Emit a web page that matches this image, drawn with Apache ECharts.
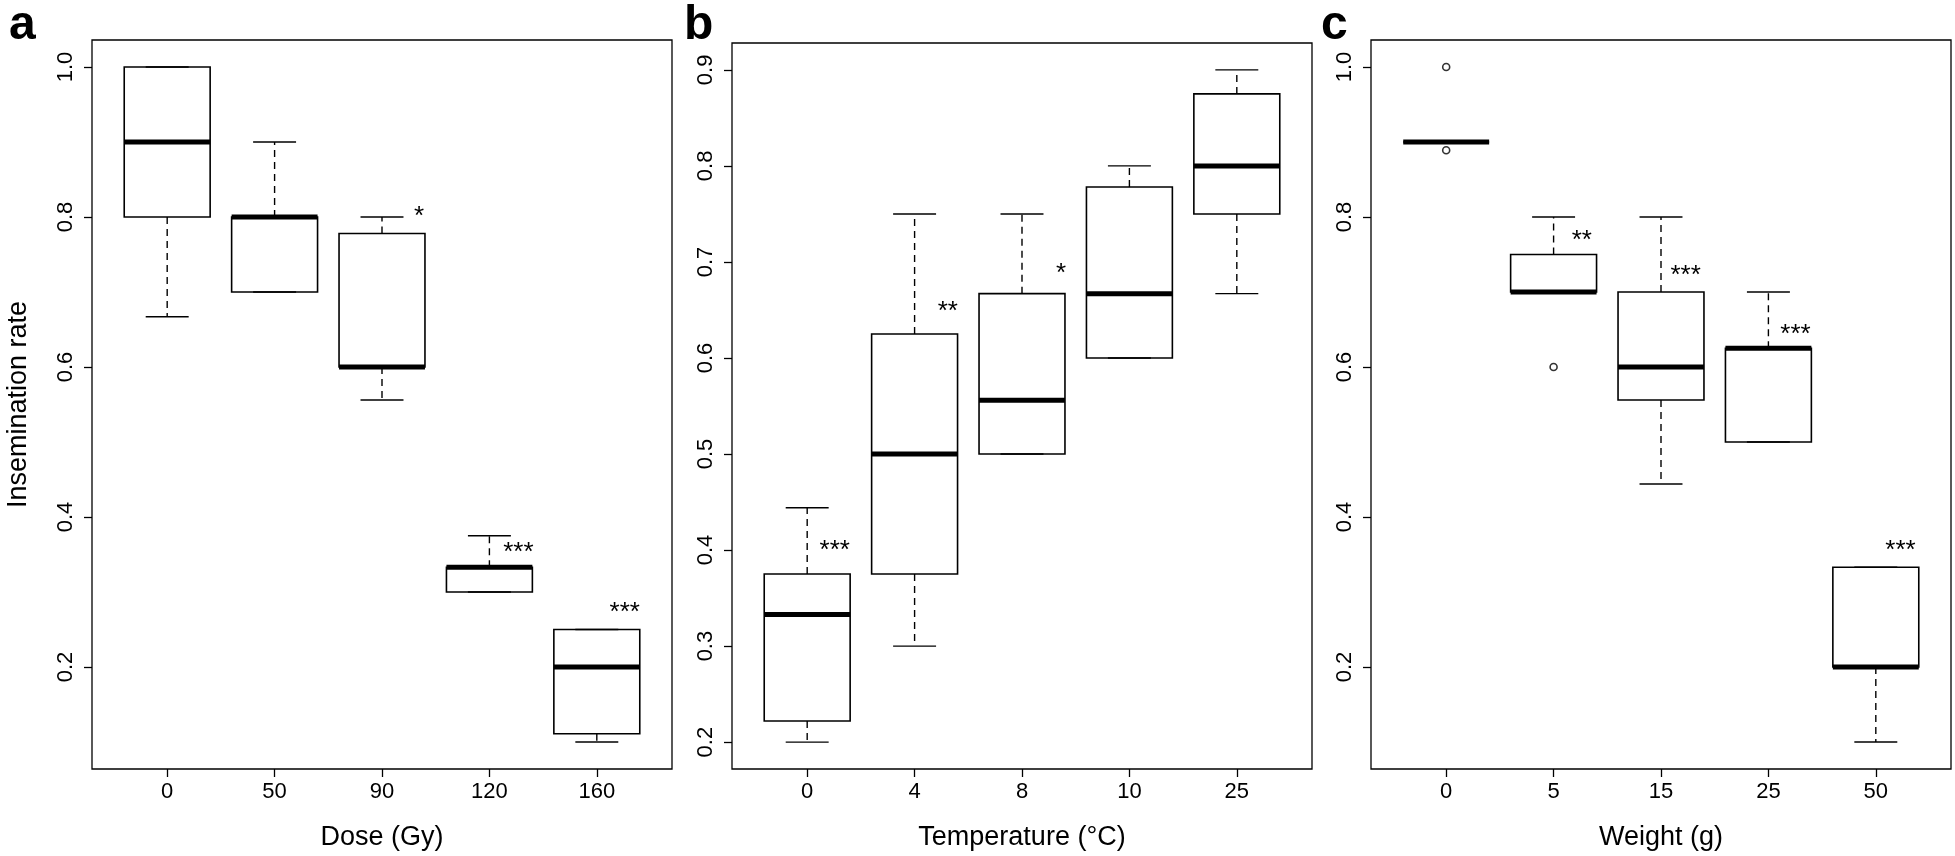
<!DOCTYPE html>
<html>
<head>
<meta charset="utf-8">
<script src="https://cdn.jsdelivr.net/npm/echarts@6/dist/echarts.min.js"></script>
<style>
html,body{margin:0;padding:0;background:#fff;}
#chart{width:1955px;height:856px;}
</style>
</head>
<body>
<div id="chart"></div>
<script>
// ---------- Data ----------
// Panel a: Dose (Gy)
const doseCats = ['0', '50', '90', '120', '160'];
const doseLow  = [0.667, 0.7,   0.556, 0.3,   0.1];
const doseQ1   = [0.8,   0.7,   0.6,   0.3,   0.111];
const doseMed  = [0.9,   0.8,   0.6,   0.333, 0.2];
const doseQ3   = [1.0,   0.8,   0.778, 0.333, 0.25];
const doseHigh = [1.0,   0.9,   0.8,   0.375, 0.25];
const doseSigText = ['*', '***', '***'];
const doseSigX = [3.346, 4.27, 5.26];
const doseSigY = [0.809, 0.362, 0.282];

// Panel b: Temperature (°C)
const tempCats = ['0', '4', '8', '10', '25'];
const tempLow  = [0.2,   0.3,   0.5,   0.6,   0.667];
const tempQ1   = [0.222, 0.375, 0.5,   0.6,   0.75];
const tempMed  = [0.333, 0.5,   0.556, 0.667, 0.8];
const tempQ3   = [0.375, 0.625, 0.667, 0.778, 0.875];
const tempHigh = [0.444, 0.75,  0.75,  0.8,   0.9];
const tempSigText = ['***', '**', '*'];
const tempSigX = [1.257, 2.309, 3.364];
const tempSigY = [0.406, 0.6555, 0.6946];

// Panel c: Weight (g)
const weightCats = ['0', '5', '15', '25', '50'];
const weightLow  = [0.9, 0.7,  0.444, 0.5,   0.1];
const weightQ1   = [0.9, 0.7,  0.556, 0.5,   0.2];
const weightMed  = [0.9, 0.7,  0.6,   0.625, 0.2];
const weightQ3   = [0.9, 0.75, 0.7,   0.625, 0.333];
const weightHigh = [0.9, 0.8,  0.8,   0.7,   0.333];
const weightOutX = [1, 1, 2];
const weightOutY = [1.0, 0.889, 0.6];
const weightSigText = ['**', '***', '***', '***'];
const weightSigX = [2.263, 3.229, 4.252, 5.23];
const weightSigY = [0.778, 0.731, 0.652, 0.364];

// Tick labels
const doseYTicks = [0.2, 0.4, 0.6, 0.8, 1.0];
const tempYTicks = [0.2, 0.3, 0.4, 0.5, 0.6, 0.7, 0.8, 0.9];
const weightYTicks = [0.2, 0.4, 0.6, 0.8, 1.0];

// ---------- Styling ----------
const FONT = '"Liberation Sans", Arial, Helvetica, sans-serif';
const BOX_W = 0.8;

function boxData(low, q1, med, q3, high) {
  return low.map((v, i) => [i + 1, low[i], q1[i], med[i], q3[i], high[i]]);
}
function sigData(xs, ys) {
  return xs.map((x, i) => [x, ys[i]]);
}

function boxRender(params, api) {
  const x = api.value(0);
  const c = v => api.coord([x, v]);
  const half = api.size([BOX_W, 0])[0] / 2;
  const capHalf = half / 2;
  const cx = c(api.value(3))[0];
  const yLo = c(api.value(1))[1], yQ1 = c(api.value(2))[1], yMd = c(api.value(3))[1];
  const yQ3 = c(api.value(4))[1], yHi = c(api.value(5))[1];
  const thin = { stroke: '#000', lineWidth: 1.4 };
  const dash = { stroke: '#000', lineWidth: 1.4, lineDash: [7, 5] };
  return {
    type: 'group',
    children: [
      { type: 'rect', shape: { x: cx - half, y: yQ3, width: 2 * half, height: yQ1 - yQ3 },
        style: { fill: '#fff', stroke: '#000', lineWidth: 1.6 } },
      { type: 'line', shape: { x1: cx, y1: yQ3, x2: cx, y2: yHi }, style: dash },
      { type: 'line', shape: { x1: cx, y1: yQ1, x2: cx, y2: yLo }, style: dash },
      { type: 'line', shape: { x1: cx - capHalf, y1: yHi, x2: cx + capHalf, y2: yHi }, style: thin },
      { type: 'line', shape: { x1: cx - capHalf, y1: yLo, x2: cx + capHalf, y2: yLo }, style: thin },
      { type: 'line', shape: { x1: cx - half, y1: yMd, x2: cx + half, y2: yMd },
        style: { stroke: '#000', lineWidth: 5, lineCap: 'butt' } }
    ]
  };
}

function sigRender(texts) {
  return function (params, api) {
    const p = api.coord([api.value(0), api.value(1)]);
    return {
      type: 'text',
      x: p[0], y: p[1] + 7,
      style: { text: texts[params.dataIndex], fontSize: 26, fontFamily: FONT, fill: '#000',
               align: 'center', verticalAlign: 'middle' }
    };
  };
}

function xAxisFor(idx, cats, name) {
  return {
    type: 'value', gridIndex: idx, min: 0.3, max: 5.7,
    name: name, nameLocation: 'middle', nameGap: 55,
    nameTextStyle: { fontSize: 27, fontFamily: FONT, color: '#000' },
    axisLine: { show: false },
    axisTick: { show: true, inside: false, length: 8, customValues: [1, 2, 3, 4, 5],
                lineStyle: { color: '#000', width: 1.3 } },
    axisLabel: { show: true, margin: 12, fontSize: 22, fontFamily: FONT, color: '#000',
                 customValues: [1, 2, 3, 4, 5],
                 formatter: v => cats[Math.round(v) - 1] },
    splitLine: { show: false }
  };
}
function yAxisFor(idx, min, max, ticks, name) {
  return {
    type: 'value', gridIndex: idx, min: min, max: max,
    name: name || '', nameLocation: 'middle', nameGap: 60,
    nameTextStyle: { fontSize: 27, fontFamily: FONT, color: '#000' },
    axisLine: { show: false },
    axisTick: { show: true, inside: false, length: 8, customValues: ticks,
                lineStyle: { color: '#000', width: 1.3 } },
    axisLabel: { show: true, margin: 15, rotate: 90, fontSize: 22, fontFamily: FONT, color: '#000',
                 customValues: ticks, formatter: v => v.toFixed(1) },
    splitLine: { show: false }
  };
}

const gridStyle = { show: true, borderColor: '#000', borderWidth: 1.3, backgroundColor: 'transparent' };

const option = {
  animation: false,
  backgroundColor: '#fff',
  grid: [
    Object.assign({ left: 92, top: 40, width: 580, height: 732 }, gridStyle),
    Object.assign({ left: 732, top: 43, width: 580, height: 729 }, gridStyle),
    Object.assign({ left: 1371, top: 40, width: 580, height: 732 }, gridStyle)
  ],
  xAxis: [
    xAxisFor(0, doseCats, 'Dose (Gy)'),
    xAxisFor(1, tempCats, 'Temperature (°C)'),
    xAxisFor(2, weightCats, 'Weight (g)')
  ],
  yAxis: [
    yAxisFor(0, 0.064, 1.036, doseYTicks, 'Insemination rate'),
    yAxisFor(1, 0.172, 0.928, tempYTicks, ''),
    yAxisFor(2, 0.064, 1.036, weightYTicks, '')
  ],
  graphic: [
    { type: 'text', left: 9, top: 2, style: { text: 'a', fontSize: 48, fontWeight: 'bold', fontFamily: FONT, fill: '#000' } },
    { type: 'text', left: 684, top: 2, style: { text: 'b', fontSize: 48, fontWeight: 'bold', fontFamily: FONT, fill: '#000' } },
    { type: 'text', left: 1321, top: 2, style: { text: 'c', fontSize: 48, fontWeight: 'bold', fontFamily: FONT, fill: '#000' } }
  ],
  series: [
    { type: 'custom', xAxisIndex: 0, yAxisIndex: 0, renderItem: boxRender,
      encode: { x: 0, y: [1, 2, 3, 4, 5] }, data: boxData(doseLow, doseQ1, doseMed, doseQ3, doseHigh) },
    { type: 'custom', xAxisIndex: 1, yAxisIndex: 1, renderItem: boxRender,
      encode: { x: 0, y: [1, 2, 3, 4, 5] }, data: boxData(tempLow, tempQ1, tempMed, tempQ3, tempHigh) },
    { type: 'custom', xAxisIndex: 2, yAxisIndex: 2, renderItem: boxRender,
      encode: { x: 0, y: [1, 2, 3, 4, 5] }, data: boxData(weightLow, weightQ1, weightMed, weightQ3, weightHigh) },
    { type: 'scatter', xAxisIndex: 2, yAxisIndex: 2, symbol: 'circle', symbolSize: 7,
      itemStyle: { color: '#fff', borderColor: '#000', borderWidth: 1.6 },
      data: weightOutX.map((x, i) => [x, weightOutY[i]]) },
    { type: 'custom', xAxisIndex: 0, yAxisIndex: 0, renderItem: sigRender(doseSigText),
      encode: { x: 0, y: 1 }, data: sigData(doseSigX, doseSigY) },
    { type: 'custom', xAxisIndex: 1, yAxisIndex: 1, renderItem: sigRender(tempSigText),
      encode: { x: 0, y: 1 }, data: sigData(tempSigX, tempSigY) },
    { type: 'custom', xAxisIndex: 2, yAxisIndex: 2, renderItem: sigRender(weightSigText),
      encode: { x: 0, y: 1 }, data: sigData(weightSigX, weightSigY) }
  ]
};

const chart = echarts.init(document.getElementById('chart'), null, { renderer: 'canvas' });
chart.setOption(option);
</script>
</body>
</html>
